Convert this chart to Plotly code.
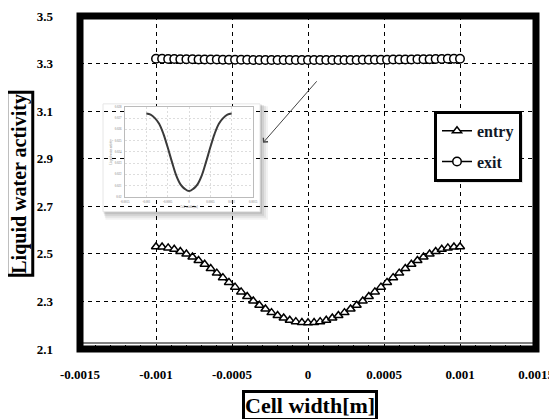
import plotly.graph_objects as go

# ---- data ----
cell_x = [-0.001 + i * 0.00004 for i in range(51)]
entry_half = [2.530, 2.529, 2.525, 2.519, 2.510, 2.499, 2.487, 2.472, 2.456, 2.438,
              2.419, 2.400, 2.380, 2.360, 2.340, 2.321, 2.302, 2.284, 2.268, 2.253,
              2.241, 2.230, 2.221, 2.215, 2.211]
entry_vals = entry_half + [2.210] + entry_half[::-1]
exit_vals = [3.320, 3.320, 3.319, 3.319, 3.318, 3.318, 3.318, 3.317, 3.317, 3.317,
             3.317, 3.316, 3.316, 3.316, 3.316, 3.316, 3.315, 3.315, 3.315, 3.315,
             3.315, 3.315, 3.315, 3.315, 3.315, 3.315, 3.315, 3.315, 3.315, 3.315,
             3.315, 3.315, 3.315, 3.315, 3.316, 3.316, 3.316, 3.316, 3.316, 3.317,
             3.317, 3.317, 3.317, 3.318, 3.318, 3.318, 3.319, 3.319, 3.320, 3.320, 3.320]

x_tickvals = [-0.0015, -0.001, -0.0005, 0, 0.0005, 0.001, 0.0015]
x_ticktext = ["-0.0015", "-0.001", "-0.0005", "0", "0.0005", "0.001", "0.0015"]
y_tickvals = [2.1, 2.3, 2.5, 2.7, 2.9, 3.1, 3.3, 3.5]
y_ticktext = ["2.1", "2.3", "2.5", "2.7", "2.9", "3.1", "3.3", "3.5"]

inset_x = [-0.001 + i * 0.0001 for i in range(21)]
inset_y = [0.0274, 0.0273, 0.0270, 0.0265, 0.0256, 0.0244, 0.0231, 0.0219, 0.0211, 0.0207,
           0.0205, 0.0207, 0.0211, 0.0219, 0.0231, 0.0244, 0.0256, 0.0265, 0.0270, 0.0273, 0.0274]
inset_x_ticks = [-0.0015, -0.001, -0.0005, 0, 0.0005, 0.001, 0.0015]
inset_x_text = ["-0.0015", "-0.001", "-0.0005", "0", "0.0005", "0.001", "0.0015"]
inset_y_ticks = [0.020, 0.021, 0.022, 0.023, 0.024, 0.025, 0.026, 0.027, 0.028]
inset_y_text = ["0.02", "0.021", "0.022", "0.023", "0.024", "0.025", "0.026", "0.027", "0.028"]

SERIF = "Liberation Serif"

# page body has an 8px margin; figure-local pixel = reference pixel - 8
W, H = 549, 411
L, T = 72, 8
PW, PH = 456, 333.5


def px(xr):
    return (xr - 8 - L) / PW


def py(yr):
    return 1 - (yr - 8 - T) / PH


fig = go.Figure()

fig.add_trace(go.Scatter(
    x=cell_x, y=entry_vals, name="entry", mode="lines+markers",
    line=dict(color="black", width=1.5),
    marker=dict(symbol="triangle-up", size=8, color="white", line=dict(color="black", width=1.5)),
    legendgroup="a",
))
fig.add_trace(go.Scatter(
    x=cell_x, y=exit_vals, name="exit", mode="lines+markers",
    line=dict(color="black", width=1.5),
    marker=dict(symbol="circle", size=8.5, color="white", line=dict(color="black", width=1.5)),
    legendgroup="b",
))

# inset chart
fig.add_trace(go.Scatter(
    x=inset_x, y=inset_y, mode="lines", line=dict(color="#3a3a3a", width=2, shape="spline"),
    xaxis="x2", yaxis="y2", showlegend=False,
))

fig.update_layout(
    width=W, height=H,
    margin=dict(l=L, r=W - L - PW, t=T, b=H - T - PH),
    paper_bgcolor="white", plot_bgcolor="white",
    font=dict(family=SERIF, color="black"),
    xaxis=dict(
        range=[-0.0015, 0.0015], tickvals=x_tickvals, ticktext=x_ticktext,
        showgrid=True, gridcolor="black", gridwidth=1, griddash="4px,4px",
        zeroline=False, ticks="", ticklabelstandoff=16, automargin=False,
        ticklabeloverflow="allow",
        tickfont=dict(family=SERIF, size=13, color="black", weight="bold"),
        minor=dict(dtick=0.0001, tick0=0, ticks="inside", ticklen=4, tickcolor="black",
                   showgrid=False),
        domain=[0, 1],
    ),
    yaxis=dict(
        range=[2.1, 3.5], tickvals=y_tickvals, ticktext=y_ticktext,
        showgrid=True, gridcolor="black", gridwidth=1, griddash="4px,4px",
        zeroline=False, ticks="", ticklabelstandoff=26, automargin=False,
        ticklabeloverflow="allow",
        tickfont=dict(family=SERIF, size=13, color="black", weight="bold"),
        domain=[0, 1],
    ),
    xaxis2=dict(
        domain=[px(125), px(253)], anchor="y2", range=[-0.0015, 0.0015],
        tickvals=inset_x_ticks, ticktext=inset_x_text, automargin=False,
        tickfont=dict(size=3, color="#777"), showgrid=True, gridcolor="#dddddd",
        griddash="2px,2px", zeroline=False, showline=True, linecolor="#bbbbbb",
        mirror=True, ticks="", ticklabelstandoff=2,
        title=dict(text="Cell width [m]", font=dict(size=3, color="#777"), standoff=2),
    ),
    yaxis2=dict(
        domain=[py(197), py(107)], anchor="x2", range=[0.020, 0.028],
        tickvals=inset_y_ticks, ticktext=inset_y_text, automargin=False,
        tickfont=dict(size=3, color="#777"), showgrid=True, gridcolor="#dddddd",
        griddash="2px,2px", zeroline=False, showline=True, linecolor="#bbbbbb",
        mirror=True, ticks="", ticklabelstandoff=2,
        title=dict(text="Liquid water activity", font=dict(size=3, color="#777"), standoff=2),
    ),
    legend=dict(
        x=px(434), y=py(111), xanchor="left", yanchor="top",
        bgcolor="white", bordercolor="black", borderwidth=3,
        font=dict(family=SERIF, size=16, color="#101828", weight="bold"),
        traceorder="grouped", tracegroupgap=7,
    ),
    showlegend=True,
)

shapes = []
# soft shadow behind inset card
for i, op in enumerate([0.05, 0.06, 0.08, 0.10]):
    d = 8 - 2 * i
    shapes.append(dict(type="rect", xref="paper", yref="paper",
                       x0=px(103 + d * 0.3), x1=px(260 + d),
                       y0=py(212 + d), y1=py(104 + d * 0.3),
                       line=dict(width=0), fillcolor=f"rgba(0,0,0,{op})", layer="between"))
# inset card
shapes.append(dict(type="rect", xref="paper", yref="paper",
                   x0=px(103), x1=px(260), y0=py(212), y1=py(104),
                   line=dict(color="#e6e6e6", width=1), fillcolor="white", layer="between"))
# legend shadow
shapes.append(dict(type="rect", xref="paper", yref="paper",
                   x0=px(437), x1=px(523), y0=py(183), y1=py(115),
                   line=dict(width=0), fillcolor="rgba(0,0,0,0.12)", layer="between"))
# thick plot-area border
shapes.append(dict(type="rect", xref="paper", yref="paper", x0=0, x1=1, y0=0, y1=1,
                   line=dict(color="black", width=7), layer="above"))
# thin inner axis line at the bottom
shapes.append(dict(type="line", xref="paper", yref="paper", x0=0, x1=1,
                   y0=6 / PH, y1=6 / PH, line=dict(color="black", width=1), layer="above"))
fig.update_layout(shapes=shapes)

fig.add_annotation(
    xref="paper", yref="paper", x=px(20), y=py(184),
    text="<b>Liquid water activity</b>", textangle=-90, showarrow=False,
    font=dict(family=SERIF, size=20, color="black"),
    bordercolor="black", borderwidth=3, borderpad=0, bgcolor="white",
    xanchor="center", yanchor="middle",
)
fig.add_annotation(
    xref="paper", yref="paper", x=px(309.5), y=py(406),
    text="<b>Cell width[m]</b>", showarrow=False,
    font=dict(family=SERIF, size=22, color="black"),
    bordercolor="black", borderwidth=3, borderpad=0, bgcolor="white",
    xanchor="center", yanchor="middle",
)
# arrow pointing to inset
fig.add_annotation(
    xref="paper", yref="paper", x=px(263), y=py(143),
    ax=55, ay=-63, text="", showarrow=True, arrowhead=4, arrowsize=1.2,
    arrowwidth=1, arrowcolor="#444444",
)

fig.write_html("out.html")
